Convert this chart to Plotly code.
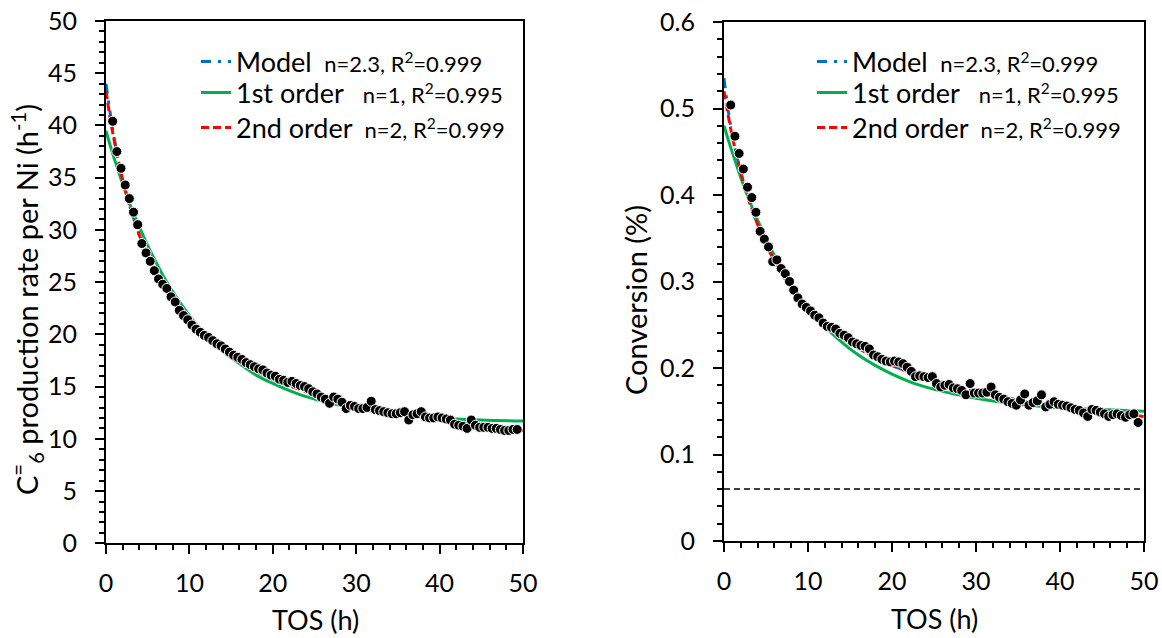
import plotly.graph_objects as go

# ---------------- data ----------------
tos = [0.8, 1.3, 1.8, 2.3, 2.8, 3.3, 3.8, 4.3, 4.8, 5.3,
       5.8, 6.3, 6.8, 7.3, 7.8, 8.3, 8.8, 9.3, 9.8, 10.3,
       10.8, 11.3, 11.8, 12.3, 12.8, 13.3, 13.8, 14.3, 14.8, 15.3,
       15.8, 16.3, 16.8, 17.3, 17.8, 18.3, 18.8, 19.3, 19.8, 20.3,
       20.8, 21.3, 21.8, 22.3, 22.8, 23.3, 23.8, 24.3, 24.8, 25.3,
       25.8, 26.3, 26.8, 27.3, 27.8, 28.3, 28.8, 29.3, 29.8, 30.3,
       30.8, 31.3, 31.8, 32.3, 32.8, 33.3, 33.8, 34.3, 34.8, 35.3,
       35.8, 36.3, 36.8, 37.3, 37.8, 38.3, 38.8, 39.3, 39.8, 40.3,
       40.8, 41.3, 41.8, 42.3, 42.8, 43.3, 43.8, 44.3, 44.8, 45.3,
       45.8, 46.3, 46.8, 47.3, 47.8, 48.3, 48.8, 49.3]

rate = [40.4, 37.5, 35.9, 34.3, 33.0, 31.7, 30.5, 28.7, 27.8, 27.0,
        26.1, 25.3, 24.8, 24.4, 23.6, 23.1, 22.3, 21.8, 21.4, 20.9,
        20.5, 20.2, 19.9, 19.7, 19.4, 19.1, 18.9, 18.6, 18.3, 18.0,
        17.8, 17.6, 17.3, 17.1, 16.9, 16.7, 16.6, 16.3, 16.1, 16.0,
        15.7, 15.6, 15.4, 15.5, 15.3, 15.1, 15.0, 14.8, 14.5, 14.3,
        14.0, 13.8, 13.4, 14.0, 13.8, 13.5, 12.9, 13.2, 13.1, 12.9,
        12.9, 13.0, 13.6, 12.8, 12.7, 12.6, 12.5, 12.4, 12.4, 12.5,
        12.6, 11.8, 12.3, 12.4, 12.6, 12.1, 12.0, 12.0, 12.1, 12.0,
        11.9, 11.8, 11.4, 11.3, 11.2, 11.0, 11.8, 11.3, 11.1, 11.1,
        11.1, 11.0, 11.0, 10.9, 10.8, 10.8, 10.9, 10.9]

conversion = [0.504, 0.468, 0.448, 0.430, 0.409, 0.397, 0.380, 0.358, 0.349, 0.340,
              0.323, 0.325, 0.315, 0.309, 0.300, 0.290, 0.281, 0.274, 0.270, 0.266,
              0.261, 0.258, 0.252, 0.248, 0.247, 0.245, 0.240, 0.238, 0.235, 0.230,
              0.228, 0.226, 0.225, 0.222, 0.215, 0.213, 0.210, 0.208, 0.207, 0.208,
              0.207, 0.205, 0.201, 0.196, 0.190, 0.191, 0.190, 0.189, 0.190, 0.182,
              0.178, 0.180, 0.181, 0.177, 0.176, 0.174, 0.169, 0.182, 0.171, 0.171,
              0.171, 0.172, 0.178, 0.169, 0.166, 0.164, 0.161, 0.159, 0.157, 0.163,
              0.170, 0.157, 0.160, 0.162, 0.169, 0.155, 0.158, 0.161, 0.158, 0.157,
              0.156, 0.154, 0.152, 0.151, 0.148, 0.144, 0.152, 0.151, 0.149, 0.147,
              0.144, 0.146, 0.147, 0.145, 0.143, 0.146, 0.147, 0.137]

fit_t = [0, 0.5, 1, 2, 3, 4, 5, 6, 7, 8, 10, 12, 14, 16, 18, 20, 23, 26, 30, 35, 40, 45, 50]

rate_model = [44.0, 41.2, 38.7, 34.8, 31.9, 29.5, 27.5, 25.9, 24.45, 23.2, 21.2, 19.6,
              18.4, 17.3, 16.45, 15.7, 14.8, 14.0, 13.2, 12.4, 11.8, 11.25, 10.8]
rate_first = [39.5, 38.1, 36.8, 34.4, 32.2, 30.3, 28.5, 26.9, 25.4, 24.1, 21.8, 19.9,
              18.4, 17.2, 16.1, 15.3, 14.3, 13.6, 12.9, 12.3, 12.0, 11.8, 11.7]
rate_second = [43.3, 40.7, 38.5, 34.8, 31.9, 29.5, 27.5, 25.9, 24.45, 23.2, 21.2, 19.6,
               18.4, 17.3, 16.45, 15.7, 14.8, 14.0, 13.2, 12.4, 11.8, 11.25, 10.8]

conv_model = [0.535, 0.498, 0.469, 0.426, 0.393, 0.366, 0.343, 0.324, 0.307, 0.293, 0.269, 0.250,
              0.235, 0.223, 0.212, 0.203, 0.192, 0.183, 0.173, 0.163, 0.155, 0.149, 0.144]
conv_first = [0.480, 0.464, 0.449, 0.420, 0.394, 0.371, 0.350, 0.330, 0.313, 0.297, 0.270, 0.248,
              0.230, 0.215, 0.203, 0.193, 0.181, 0.173, 0.165, 0.158, 0.154, 0.152, 0.150]
conv_second = [0.520, 0.492, 0.467, 0.426, 0.393, 0.366, 0.343, 0.324, 0.307, 0.293, 0.269, 0.250,
               0.235, 0.223, 0.212, 0.203, 0.192, 0.183, 0.173, 0.163, 0.155, 0.149, 0.144]

baseline_x = [0, 50]
baseline_y = [0.06, 0.06]

legend_names = [
    "Model&nbsp;<span style='font-size:22px'>&nbsp;n=2.3, R<sup>2</sup>=0.999</span>",
    "1st order&nbsp;&nbsp;<span style='font-size:22px'>&nbsp;n=1, R<sup>2</sup>=0.995</span>",
    "2nd order&nbsp;<span style='font-size:22px'>&nbsp;n=2, R<sup>2</sup>=0.999</span>",
]

y_title_left = "C<sup>=</sup><sub>6</sub> production rate per Ni (h<sup>-1</sup>)"
y_title_right = "Conversion (%)"
x_title = "TOS (h)"

BLUE = "#0070C0"
GREEN = "#00B050"
RED = "#FF0000"
FONT = "Lato"
TICK_SIZE = 25
TITLE_SIZE = 27
YTITLE_SIZE = 29
LEGEND_SIZE = 27

W, H = 1162, 638

def px(x):
    return x / W

def py(y):
    return 1 - y / H

fig = go.Figure()

def add_panel(xa, ya, legs, model, first, second, points, extra=None):
    if extra is not None:
        fig.add_trace(go.Scatter(x=extra[0], y=extra[1], mode="lines", xaxis=xa, yaxis=ya,
                                 line=dict(color="black", width=1.5, dash="6px,4px"),
                                 showlegend=False, hoverinfo="skip"))
    fig.add_trace(go.Scatter(x=fit_t, y=model, mode="lines", name=legend_names[0], xaxis=xa, yaxis=ya,
                             legend=legs[0], line_shape="spline",
                             line=dict(color=BLUE, width=3, dash="10px,7px,3px,7px")))
    fig.add_trace(go.Scatter(x=fit_t, y=first, mode="lines", name=legend_names[1], xaxis=xa, yaxis=ya,
                             legend=legs[1], line_shape="spline",
                             line=dict(color=GREEN, width=3)))
    fig.add_trace(go.Scatter(x=fit_t, y=second, mode="lines", name=legend_names[2], xaxis=xa, yaxis=ya,
                             legend=legs[2], line_shape="spline",
                             line=dict(color=RED, width=3, dash="8px,4px")))
    fig.add_trace(go.Scatter(x=tos, y=points, mode="markers", xaxis=xa, yaxis=ya, showlegend=False,
                             marker=dict(color="black", size=10, line=dict(color="white", width=1))))

add_panel("x", "y", ["legend", "legend2", "legend3"], rate_model, rate_first, rate_second, rate)
add_panel("x2", "y2", ["legend4", "legend5", "legend6"], conv_model, conv_first, conv_second, conversion,
          extra=(baseline_x, baseline_y))

axis_common = dict(
    showgrid=False, zeroline=False, showline=True, linecolor="black", linewidth=2,
    mirror=True, ticks="outside", ticklen=9, tickwidth=1.5, tickcolor="black",
    automargin=False, ticklabeloverflow="allow",
    tickfont=dict(family=FONT, size=TICK_SIZE, color="black"),
)

def leg(x, y):
    return dict(x=px(x), y=py(y), xanchor="left", yanchor="middle",
                bgcolor="rgba(0,0,0,0)", borderwidth=0,
                font=dict(family=FONT, size=LEGEND_SIZE, color="black"))

def title_note(text, x, y, angle, size):
    return dict(text=text, xref="paper", yref="paper", x=px(x), y=py(y),
                xanchor="center", yanchor="middle", textangle=angle, showarrow=False,
                font=dict(family=FONT, size=size, color="black"))

fig.update_layout(
    width=W, height=H,
    margin=dict(l=0, r=0, t=0, b=0, autoexpand=False),
    paper_bgcolor="white", plot_bgcolor="white",
    font=dict(family=FONT, color="black"),
    xaxis=dict(axis_common, domain=[px(106), px(523)], range=[0, 50], dtick=10,
               minor=dict(dtick=2, ticks="outside", ticklen=5, tickcolor="black"),
               ticklabelstandoff=8, anchor="y"),
    yaxis=dict(axis_common, domain=[py(543.3), py(21)], range=[0, 50], dtick=5,
               minor=dict(dtick=1, ticks="outside", ticklen=5, tickcolor="black"),
               ticklabelstandoff=13, anchor="x"),
    xaxis2=dict(axis_common, domain=[px(724), px(1144)], range=[0, 50], dtick=10,
                minor=dict(dtick=2, ticks="outside", ticklen=5, tickcolor="black"),
                ticklabelstandoff=8, anchor="y2"),
    yaxis2=dict(axis_common, domain=[py(541), py(22)], range=[0, 0.6], dtick=0.1,
                minor=dict(dtick=0.02, ticks="outside", ticklen=5, tickcolor="black"),
                ticklabelstandoff=13, anchor="x2"),
    legend=leg(196, 62),
    legend2=leg(196, 93),
    legend3=leg(196, 128),
    legend4=leg(812, 62),
    legend5=leg(812, 93),
    legend6=leg(812, 128),
    annotations=[
        title_note(y_title_left, 27, 300, -90, YTITLE_SIZE),
        title_note(y_title_right, 635, 300, -90, YTITLE_SIZE),
        title_note(x_title, 315, 619, 0, TITLE_SIZE),
        title_note(x_title, 934, 618, 0, TITLE_SIZE),
    ],
)

# remove the default 8px page margin so the figure sits at the window origin
fig.write_html("out.html", config={"displayModeBar": False},
               post_script="document.body.style.margin='0';")
